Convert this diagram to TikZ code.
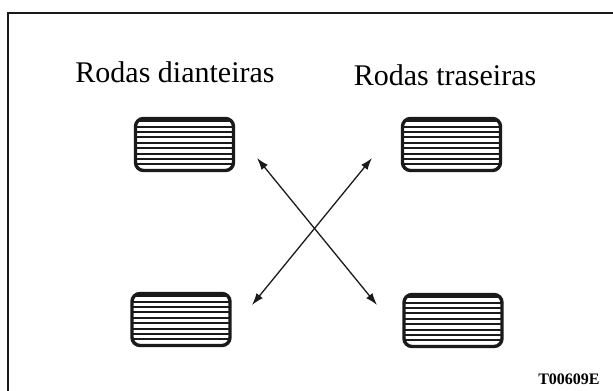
\documentclass[tikz,border=0pt]{standalone}
\usepackage{fontspec}
\setmainfont{Liberation Serif}
\usetikzlibrary{arrows.meta,positioning}
\definecolor{Ink}{HTML}{1A1A1A}
\tikzset{
  frame/.style={draw=Ink,line width=1pt},
  tire/.style={draw=Ink,line width=1.7pt,rounded corners=4pt,minimum width=49pt,minimum height=26pt,inner sep=0pt,
    path picture={\foreach \k in {1,...,9}
      \draw[Ink,line width=1pt] ([yshift=\k*2.7pt+.4pt]path picture bounding box.south west) -- ([yshift=\k*2.7pt+.4pt]path picture bounding box.south east);}},
  caption/.style={font=\fontsize{15}{18}\selectfont,anchor=base,inner sep=0pt},
  swap/.style={{Latex[length=6pt,width=4pt]}-{Latex[length=6pt,width=4pt]},draw=Ink,line width=.65pt}
}
\begin{document}
\begin{tikzpicture}[x=0.5pt,y=-0.5pt]
      \useasboundingbox (0,0) rectangle (613,390);
      \draw[frame] (8,392) |- (615,13);
      \node[caption] (front) at (175,83) {Rodas dianteiras};
      \node[caption] (rear) at (445,85) {Rodas traseiras};
      % tyres
      \node[tire] (fl) at (184.5,144.5) {};
      \node[tire] (fr) at (451.5,144.5) {};
      \node[tire] (bl) at (181,319.5) {};
      \node[tire] (br) at (453,320.5) {};
      % rotation arrows
      \coordinate (flend) at (257,158);
      \coordinate (brend) at (377,305);
      \coordinate (frend) at (372,158);
      \coordinate (blend) at (252,305);
      \draw[swap] (flend) -- (brend);
      \draw[swap] (frend) -- (blend);
      \node[font=\bfseries\fontsize{8}{9}\selectfont,anchor=base east,inner sep=0pt] (code) at (600,384) {T00609E};
    \end{tikzpicture}
\end{document}
